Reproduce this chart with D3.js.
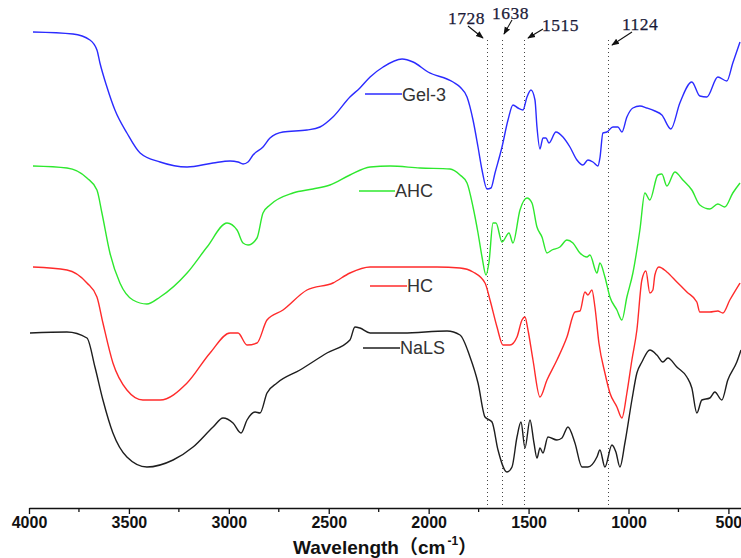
<!DOCTYPE html>
<html>
<head>
<meta charset="utf-8">
<script src="https://cdnjs.cloudflare.com/ajax/libs/d3/7.8.5/d3.min.js"></script>
<style>
html,body{margin:0;padding:0;background:#fff;}
svg{display:block;}
</style>
</head>
<body>
<svg id="chart" width="741" height="558"></svg>
<script>
// ---- DATA (wavenumber cm^-1, offset transmittance a.u.) ----
const seriesNames = ["Gel-3", "AHC", "HC", "NaLS"];
const seriesColors = ["#2b2bff", "#2ee82e", "#ff2b2b", "#1e1e1e"];

const gel3 = [[3980,475],[3780,473],[3695,467],[3660,457],[3645,444],[3610,420],[3570,397],[3510,374],[3444,354],[3344,345],[3209,340],[3079,344],[2994,346],[2954,345],[2929,343],[2904,345],[2879,352],[2829,360],[2794,369],[2729,375],[2609,377],[2544,380],[2479,390],[2394,410],[2344,419],[2293,430],[2228,440],[2133,448],[2078,445],[2003,435],[1878,425],[1843,420],[1808,410],[1778,387],[1753,360],[1733,337],[1708,318],[1688,319],[1668,334],[1633,360],[1603,387],[1578,402],[1553,399],[1528,397],[1508,410],[1488,417],[1468,407],[1458,380],[1443,358],[1428,369],[1413,369],[1398,364],[1363,375],[1328,370],[1293,360],[1258,347],[1228,342],[1203,347],[1178,345],[1153,341],[1143,349],[1128,374],[1108,375],[1078,380],[1053,380],[1033,375],[1008,390],[978,399],[943,401],[908,399],[868,396],[833,392],[788,378],[743,404],[683,425],[643,411],[608,410],[553,430],[508,426],[478,444],[442,465]];

const ahc = [[3980,341],[3810,339],[3710,329],[3660,317],[3635,294],[3595,254],[3545,224],[3480,207],[3410,203],[3344,210],[3209,234],[3109,260],[3009,284],[2959,277],[2929,264],[2904,262],[2859,269],[2829,294],[2794,302],[2679,314],[2579,318],[2494,322],[2394,332],[2293,340],[2193,341],[2043,339],[1893,338],[1843,332],[1808,324],[1778,300],[1753,274],[1733,250],[1713,232],[1698,245],[1678,284],[1663,284],[1633,265],[1598,274],[1578,264],[1543,297],[1508,309],[1483,304],[1458,280],[1433,270],[1408,254],[1383,257],[1343,260],[1308,267],[1278,264],[1243,254],[1208,250],[1193,252],[1158,234],[1143,244],[1118,230],[1093,210],[1058,197],[1033,187],[1008,210],[978,234],[943,277],[918,314],[893,307],[853,332],[833,333],[808,321],[768,335],[728,327],[683,317],[643,302],[593,298],[553,303],[518,300],[478,314],[442,324]];

const hc = [[3980,240],[3810,237],[3710,224],[3660,210],[3630,184],[3580,144],[3510,117],[3430,107],[3344,107],[3209,124],[3094,154],[2994,174],[2954,174],[2909,162],[2859,164],[2809,187],[2729,197],[2609,217],[2479,224],[2394,234],[2293,240],[2128,240],[1958,240],[1843,239],[1778,235],[1718,224],[1693,207],[1658,180],[1628,162],[1593,162],[1558,170],[1533,187],[1518,190],[1503,177],[1478,147],[1443,110],[1408,127],[1358,147],[1308,170],[1268,195],[1243,196],[1218,215],[1203,212],[1183,217],[1168,200],[1148,164],[1118,134],[1093,114],[1058,100],[1033,89],[1008,114],[983,147],[958,177],[933,227],[913,236],[893,214],[878,217],[868,232],[848,240],[808,235],[758,225],[708,215],[658,205],[643,195],[593,195],[553,196],[528,194],[493,207],[442,224]];

const nals = [[3995,174],[3810,175],[3710,169],[3670,140],[3630,107],[3580,74],[3510,50],[3410,40],[3279,47],[3179,60],[3079,80],[3029,89],[2979,84],[2939,74],[2909,87],[2869,95],[2844,94],[2809,114],[2759,124],[2644,137],[2509,154],[2394,167],[2369,180],[2344,179],[2293,174],[2128,174],[1908,176],[1843,172],[1793,150],[1753,124],[1718,90],[1683,85],[1653,57],[1608,35],[1583,40],[1558,70],[1538,85],[1518,59],[1493,87],[1473,64],[1458,49],[1443,59],[1428,54],[1403,70],[1358,67],[1333,69],[1303,80],[1268,64],[1233,40],[1203,40],[1158,50],[1143,57],[1118,40],[1083,62],[1063,55],[1043,40],[1018,64],[983,107],[958,134],[933,145],[893,157],[858,152],[828,145],[803,149],[758,140],[708,130],[683,119],[658,94],[633,107],[593,109],[568,115],[533,107],[503,127],[458,145],[437,157]];

const seriesData = [gel3, ahc, hc, nals];

const majorTicks = [4000, 3500, 3000, 2500, 2000, 1500, 1000, 500];
const minorTicks = [3750, 3250, 2750, 2250, 1750, 1250, 750];

const peakLabels = ["1728", "1638", "1515", "1124"];
const peakLinePositions = [1708, 1632, 1522, 1103]; // as drawn in the figure

// ---- CHART ----
const svg = d3.select("#chart");
const axisY = 508;

const x = d3.scaleLinear().domain([4000, 437]).range([29, 741]);
const y = d3.scaleLinear().domain([0, 500]).range([507, 7]);

// dotted reference lines
svg.append("g").selectAll("line").data(peakLinePositions).join("line")
  .attr("x1", d => Math.round(x(d)) + 0.5).attr("x2", d => Math.round(x(d)) + 0.5)
  .attr("y1", 40).attr("y2", axisY)
  .attr("stroke", "#444").attr("stroke-width", 1)
  .attr("stroke-dasharray", "1,3");

// spectra
const line = d3.line().x(d => x(d[0])).y(d => y(d[1])).curve(d3.curveMonotoneX);
svg.append("g").selectAll("path").data(seriesData).join("path")
  .attr("d", d => line(d.slice().sort((a, b) => b[0] - a[0])))
  .attr("fill", "none")
  .attr("stroke", (d, i) => seriesColors[i])
  .attr("stroke-width", 1.4)
  .attr("stroke-linejoin", "round");

// inline legend labels
const legendPos = [
  {x1: 365, x2: 402, y: 94, ty: 101},
  {x1: 359, x2: 395, y: 191, ty: 197},
  {x1: 370, x2: 407, y: 286, ty: 292},
  {x1: 363, x2: 400, y: 348, ty: 354}
];
const lg = svg.append("g");
seriesNames.forEach((name, i) => {
  const p = legendPos[i];
  lg.append("line").attr("x1", p.x1).attr("x2", p.x2).attr("y1", p.y).attr("y2", p.y)
    .attr("stroke", seriesColors[i]).attr("stroke-width", 1.3);
  lg.append("text").attr("x", p.x2).attr("y", p.ty)
    .attr("font-family", "Arial, 'Liberation Sans', sans-serif")
    .attr("font-size", 18).attr("fill", "#333")
    .text(name);
});

// peak annotations
const defs = svg.append("defs");
defs.append("marker").attr("id", "ah").attr("viewBox", "0 0 10 10")
  .attr("refX", 9).attr("refY", 5).attr("markerWidth", 7).attr("markerHeight", 7)
  .attr("orient", "auto")
  .append("path").attr("d", "M0,1 L10,5 L0,9 Z").attr("fill", "#111");

const annot = [
  {tx: 448, ty: 24, a: [468, 26, 483, 38]},
  {tx: 492, ty: 19, a: [512, 20, 504, 34]},
  {tx: 542, ty: 31, a: [543, 29, 528, 38]},
  {tx: 622, ty: 30, a: [632, 32, 612, 45]}
];
const ag = svg.append("g");
peakLabels.forEach((lab, i) => {
  const a = annot[i];
  ag.append("text").attr("x", a.tx).attr("y", a.ty)
    .attr("font-family", "'Times New Roman', 'Liberation Serif', serif")
    .attr("font-size", 17.5).attr("letter-spacing", 0.5).attr("fill", "#1a1a38")
    .attr("stroke", "#1a1a38").attr("stroke-width", 0.25)
    .text(lab);
  ag.append("line").attr("x1", a.a[0]).attr("y1", a.a[1]).attr("x2", a.a[2]).attr("y2", a.a[3])
    .attr("stroke", "#111").attr("stroke-width", 1.1).attr("marker-end", "url(#ah)");
});

// x axis
const axisG = svg.append("g").attr("transform", `translate(0,${axisY})`);
axisG.call(d3.axisBottom(x).tickValues(majorTicks).tickSize(6).tickSizeOuter(0).tickFormat(d3.format("d")));
axisG.select(".domain").attr("stroke", "#111").attr("stroke-width", 1.3);
axisG.selectAll(".tick line").attr("stroke", "#111").attr("stroke-width", 1.3);
axisG.selectAll(".tick text")
  .attr("font-family", "Arial, 'Liberation Sans', sans-serif")
  .attr("font-weight", "bold").attr("font-size", 16).attr("fill", "#111")
  .attr("y", 9);
axisG.append("g").selectAll("line").data(minorTicks).join("line")
  .attr("x1", d => x(d)).attr("x2", d => x(d)).attr("y1", 0).attr("y2", 4)
  .attr("stroke", "#111").attr("stroke-width", 1.3);

// axis title
const title = svg.append("text").attr("x", 293).attr("y", 554)
  .attr("font-family", "Arial, 'Liberation Sans', sans-serif")
  .attr("font-weight", "bold").attr("font-size", 19).attr("fill", "#111");
title.append("tspan").text("Wavelength");
title.append("tspan").attr("font-family", "'Noto Sans CJK SC', sans-serif").text("（");
title.append("tspan").text("cm");
title.append("tspan").attr("font-size", 12).attr("dy", -9).attr("dx", 2).text("-1");
title.append("tspan").attr("dy", 9).attr("font-family", "'Noto Sans CJK SC', sans-serif").text("）");
</script>
</body>
</html>
